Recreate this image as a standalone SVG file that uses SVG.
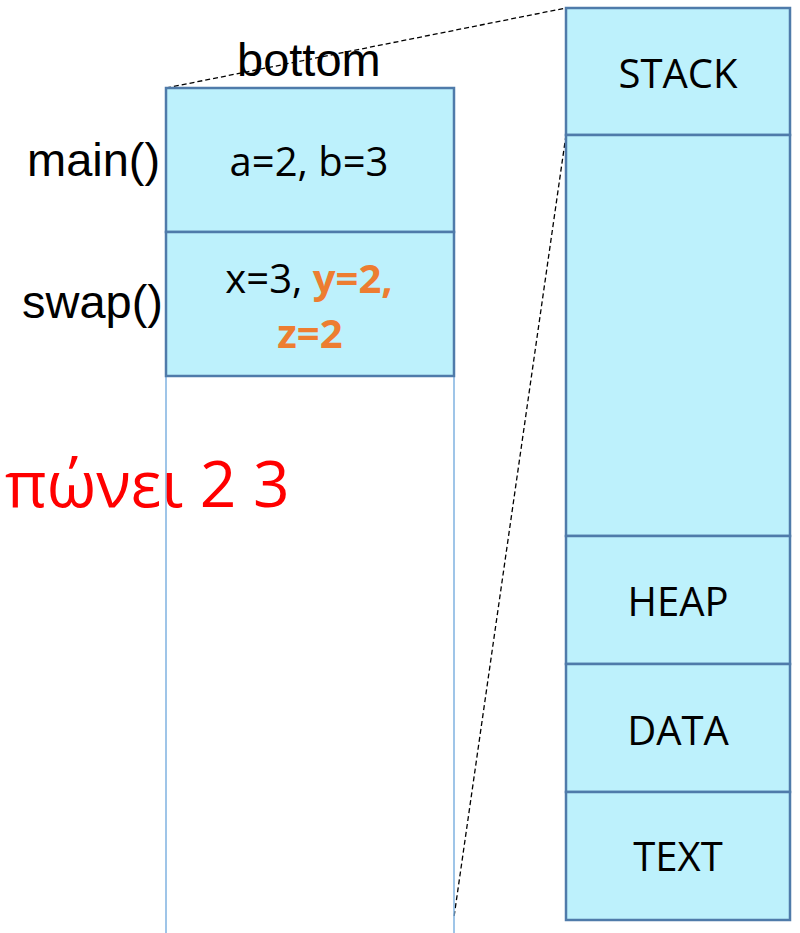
<svg xmlns="http://www.w3.org/2000/svg" width="800" height="933" viewBox="0 0 800 933">
<style>
.box{fill:#BDF1FC;stroke:#4F7BAA;stroke-width:2.5}
.lbl{font-family:"Liberation Sans",Arial,sans-serif;font-size:47px;fill:#000}
.in{font-family:"Open Sans","Liberation Sans",sans-serif;font-size:40px;fill:#000;text-anchor:middle}
.or{fill:#ED7D31;font-weight:bold}
.dash{stroke:#000;stroke-width:1.3;stroke-dasharray:5,3;fill:none}
.edge{stroke:#7FB2E0;stroke-width:1.5}
</style>
<rect width="800" height="933" fill="#fff"/>
<g id="connectors">
<line class="dash" x1="166" y1="88" x2="566" y2="8"/>
<line class="dash" x1="566" y1="135" x2="454" y2="917"/>
<line class="edge" x1="166" y1="376" x2="166" y2="933"/>
<line class="edge" x1="454" y1="376" x2="454" y2="933"/>
</g>
<g id="bottom-label"><text class="lbl" x="237" y="76">bottom</text></g>
<g id="main-frame">
<rect class="box" x="166" y="88" width="288" height="144"/>
<text class="in" x="309" y="176">a=2, b=3</text>
<text class="lbl" x="27" y="176">main()</text>
</g>
<g id="swap-frame">
<rect class="box" x="166" y="232" width="288" height="144"/>
<text class="in" x="309" y="293">x=3, <tspan class="or">y=2,</tspan></text>
<text class="in or" x="310" y="348">z=2</text>
<text class="lbl" x="22" y="318">swap()</text>
</g>
<g id="output-label"><text x="5" y="507" font-family="'Open Sans','Noto Sans',sans-serif" font-size="64" fill="#FF0000">πώνει 2 3</text></g>
<g id="stack"><rect class="box" x="566" y="8" width="224" height="127"/><text class="in" x="678" y="88">STACK</text></g>
<g id="free"><rect class="box" x="566" y="135" width="224" height="401"/></g>
<g id="heap"><rect class="box" x="566" y="536" width="224" height="128"/><text class="in" x="678" y="616">HEAP</text></g>
<g id="data"><rect class="box" x="566" y="664" width="224" height="128"/><text class="in" x="678" y="745">DATA</text></g>
<g id="text"><rect class="box" x="566" y="792" width="224" height="128"/><text class="in" x="678" y="871">TEXT</text></g>
</svg>
